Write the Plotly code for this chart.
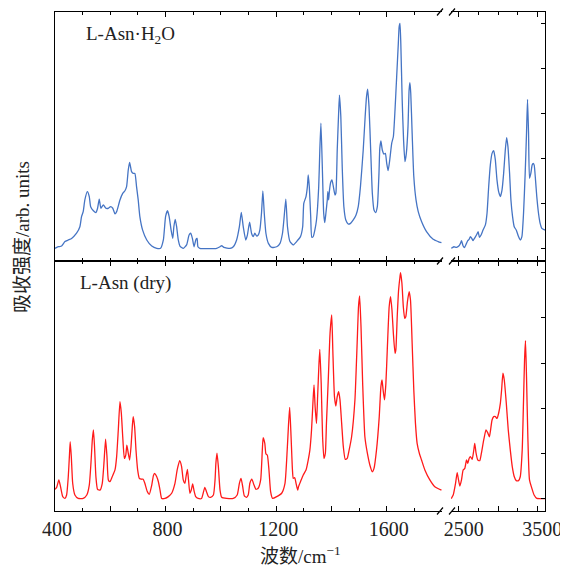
import plotly.graph_objects as go

# ---------------- data (wavenumber cm^-1, absorbance arb. units) ----------------
top_left = [(400,0),(412,0.7),(424,1.0),(436,3.0),(448,3.7),(460,4.4),(478,6.7),(490,9.6),(496,14.1),(502,16.3),
            (508,21.5),(517,25.2),(524,23.0),(529,18.5),(539,16.7),(548,15.9),(554,17.8),(560,21.9),(566,17.8),(575,19.3),
            (584,17.8),(593,17.8),(601,18.5),(609,17.8),(617,15.3),(623,16.3),(635,21.5),(645,24.4),(653,25.6),(659,27.4),
            (665,34.8),(670,38.2),(677,34.1),(683,33.3),(689,33.3),(695,27.4),(701,21.5),(707,14.1),(717,8.1),(732,3.7),
            (750,1.0),(768,0),(782,0),(792,3.7),(800,14.1),(807,16.7),(813,14.1),(820,8.1),(826,4.4),(830,9.6),
            (835,12.9),(840,9.6),(846,3.7),(852,1.0),(864,0),(876,1.5),(885,5.9),(891,6.7),(897,4.4),(903,0.7),
            (910,4.0),(914,4.4),(917,0.7),(924,0),(985,0),(997,0.7),(1003,1.2),(1011,0.4),(1033,0),(1045,0.7),
            (1057,3.7),(1067,9.6),(1074,16.0),(1081,9.6),(1090,3.7),(1096,5.9),(1104,11.6),(1111,6.7),(1117,5.2),(1123,6.7),
            (1129,5.5),(1135,5.9),(1141,8.1),(1147,15.6),(1152,25.5),(1157,15.6),(1163,6.7),(1172,2.2),(1184,0.4),(1202,0.7),
            (1214,2.2),(1223,6.7),(1228,12.6),(1235,21.9),(1241,9.6),(1250,3.0),(1262,1.5),(1274,3.0),
            (1288,5.2),(1296,9.6),(1300,20.0),(1308,23.0),(1313,27.4),(1316,32.6),(1320,27.4),(1325,14.1),(1329,4.9),(1334,5.2),
            (1340,8.1),(1346,12.6),(1354,27.4),(1358,43.7),(1362,55.6),(1367,36.3),(1372,15.6),(1376,11.4),(1380,15.6),(1385,21.5),
            (1387,25.2),(1390,21.5),(1393,25.9),(1398,29.6),(1402,30.4),(1407,27.4),(1413,23.7),(1416,24.4),(1421,43.7),(1426,60.0),
            (1429,68.1),(1434,58.5),(1439,36.3),(1445,18.5),(1452,12.6),(1461,10.8),(1469,11.1),(1479,12.6),(1489,14.8),(1497,18.5),
            (1505,27.4),(1515,43.7),(1522,58.5),(1527,67.4),(1531,70.7),(1536,63.0),(1542,43.7),(1548,24.4),(1554,17.0),(1560,15.9),
            (1566,18.5),(1572,33.3),(1575,44.4),(1579,47.7),(1584,43.7),(1590,41.9),(1595,42.2),(1600,37.8),(1605,34.5),(1611,39.3),
            (1618,46.7),(1624,49.6),(1630,61.5),(1636,76.3),(1642,91.1),(1645,98.5),(1648,100),(1651,91.1),(1656,65.9),(1661,48.1),
            (1666,38.5),(1671,42.2),(1677,54.1),(1681,70.4),(1684,73.6),(1687,68.9),(1692,51.1),(1698,31.9),(1706,21.5),(1714,16.3),
            (1726,11.9),(1744,7.4),(1768,4.0),(1786,3.0),(1798,2.5)]

top_right = [(2403,0),(2437,0.7),(2470,0.4),(2500,1.0),(2521,2.2),(2534,3.4),(2555,1.0),(2572,0.3),(2598,2.2),(2614,3.4),
             (2631,4.0),(2648,5.2),(2665,4.4),(2682,3.4),(2699,4.4),(2725,5.9),(2746,7.4),(2763,4.9),(2784,5.9),(2809,8.1),
             (2839,10.4),(2860,15.6),(2881,27.4),(2902,37.0),(2924,42.2),(2945,43.4),(2953,42.2),(2966,39.3),(2987,30.4),(3008,25.2),
             (3030,23.0),(3051,25.9),(3072,33.3),(3093,43.7),(3110,49.2),(3127,45.2),(3148,33.3),(3165,21.5),(3186,14.1),(3207,9.6),
             (3233,8.1),(3262,5.2),(3284,3.7),(3305,5.2),(3326,15.6),(3347,33.3),(3364,51.1),(3377,66.2),(3390,51.1),(3402,31.1),
             (3419,33.3),(3436,37.0),(3449,37.8),(3462,37.0),(3479,30.4),(3495,23.0),(3517,15.6),(3538,11.1),(3559,8.9),(3600,8.1)]

bot_left = [(400,4.1),(406,5.0),(414,8.3),(420,5.3),(428,0.9),(436,0.1),(442,1.6),(448,9.7),(452,18.6),(455,25.2),
            (459,18.6),(464,6.8),(472,1.6),(484,0.1),(502,0.1),(515,1.6),(524,6.0),(530,15.6),(535,26.0),(539,30.4),
            (543,23.0),(548,9.7),(554,4.1),(563,3.8),(571,6.8),(577,15.6),(583,26.3),(588,18.6),(593,8.3),(599,7.5),
            (607,9.7),(617,12.7),(623,18.6),(629,30.4),(635,42.9),(640,37.8),(645,27.4),(651,17.8),(656,19.3),(660,23.7),
            (665,20.1),(670,17.1),(675,23.0),(680,32.6),(683,36.3),(688,31.9),(693,21.5),(699,12.7),(705,9.0),(713,8.6),
            (719,8.6),(725,6.8),(734,3.1),(741,1.9),(750,6.0),(756,10.2),(760,11.2),(768,9.7),(774,7.5),(780,3.8),
            (786,0.1),(798,0.1),(810,0.9),(822,2.4),(834,6.8),(842,12.7),(851,16.8),(858,14.2),(864,8.3),(870,6.8),
            (874,9.7),(879,13.0),(883,8.3),(888,2.4),(893,3.8),(898,6.5),(903,3.5),(909,0.9),(918,0.1),(930,0.1),
            (936,2.4),(942,5.0),(948,3.1),(955,0.9),(963,0.6),(973,1.6),(979,8.3),(982,15.6),(986,20.1),(991,14.2),
            (997,3.8),(1003,0.6),(1021,0.1),(1045,0.1),(1059,1.6),(1067,6.8),(1073,9.0),(1079,5.3),(1085,1.2),(1093,0.6),
            (1099,1.6),(1105,6.8),(1112,8.6),(1120,6.0),(1127,4.1),(1135,4.6),(1144,8.3),(1150,21.5),(1153,27.0),(1159,24.5),
            (1163,19.8),(1168,19.3),(1174,12.7),(1180,3.1),(1187,0.1),(1202,0.9),(1220,2.4),(1232,6.8),(1240,21.5),(1245,33.3),
            (1249,40.4),(1254,27.4),(1259,12.7),(1262,9.0),(1267,9.3),(1272,6.8),(1278,3.8),
            (1281,5.3),(1288,7.5),(1298,10.5),(1308,12.7),(1316,17.1),(1322,21.5),(1328,30.4),(1333,42.2),(1337,50.3),(1341,40.7),
            (1346,33.3),(1350,45.1),(1355,59.9),(1358,66.1),(1363,51.0),(1368,27.4),(1373,17.8),(1378,20.1),(1382,33.3),(1389,54.0),
            (1395,73.2),(1401,81.3),(1405,65.8),(1411,45.1),(1416,41.0),(1421,45.1),(1426,47.3),(1431,43.7),(1437,33.3),(1443,23.0),
            (1450,17.4),(1457,17.8),(1464,21.5),(1473,27.4),(1485,43.7),(1493,68.7),(1498,85.0),(1502,89.7),(1507,76.1),(1513,51.0),
            (1521,27.4),(1530,20.1),(1539,14.9),(1548,11.9),(1554,13.4),(1563,21.5),(1573,36.3),(1579,49.6),(1583,52.5),(1587,48.1),
            (1592,43.7),(1597,51.0),(1602,65.8),(1609,85.0),(1614,89.4),(1619,83.5),(1624,73.2),(1630,64.3),(1633,65.8),(1638,80.5),
            (1643,92.3),(1648,98.2),(1650,100),(1655,95.3),(1660,85.0),(1665,79.8),(1669,80.5),(1675,87.2),(1681,91.6),(1686,87.9),
            (1692,68.7),(1698,48.1),(1704,33.3),(1710,24.5),(1718,20.1),(1726,17.1),(1738,12.7),(1756,8.3),(1774,5.3),(1798,3.8)]

bot_right = [(2403,0),(2428,1.6),(2458,6.8),(2479,11.5),(2496,8.3),(2513,5.6),(2534,8.3),(2555,12.7),(2576,13.4),(2598,17.1),
             (2614,15.6),(2631,17.8),(2648,18.6),(2670,17.4),(2691,21.5),(2703,24.5),(2720,20.1),(2742,17.1),(2767,16.8),(2788,20.1),
             (2818,26.0),(2847,30.4),(2868,29.2),(2890,27.4),(2902,29.6),(2924,34.8),(2945,36.3),(2966,36.3),(2987,35.5),(3008,37.8),
             (3030,42.2),(3046,48.1),(3063,55.5),(3080,52.5),(3106,42.2),(3131,30.4),(3157,21.5),(3182,14.2),(3208,9.7),(3233,8.0),
             (3262,8.0),(3284,9.7),(3309,21.5),(3326,43.7),(3339,61.4),(3351,69.9),(3364,54.0),(3381,27.4),(3402,8.3),(3432,4.6),
             (3461,1.6),(3495,0.1),(3538,0),(3600,0)]

left_tickvals = [400, 600, 800, 1000, 1200, 1400, 1600, 1800]
left_ticktext = ["400", "", "800", "", "1200", "", "1600", ""]
right_tickvals = [2500, 3000, 3500]
right_ticktext = ["2500", "", "3500"]
label_top = "L-Asn·H<sub>2</sub>O"
label_bot = "L-Asn (dry)"
ytitle = "吸收强度/arb. units"
xtitle = "波数/cm<sup>−1</sup>"

BLUE = "#4574c4"
RED = "#ff1a1a"
FONT = "Liberation Serif, 'Noto Sans CJK SC', serif"
TXT = "#222222"

def unzip(pairs):
    return [p[0] for p in pairs], [p[1] for p in pairs]

fig = go.Figure()
for pairs, color, xa, ya in [(top_left, BLUE, "x3", "y3"), (top_right, BLUE, "x4", "y4"),
                             (bot_left, RED, "x", "y"), (bot_right, RED, "x2", "y2")]:
    xs, ys = unzip(pairs)
    fig.add_trace(go.Scatter(x=xs, y=ys, mode="lines", xaxis=xa, yaxis=ya, showlegend=False,
                             line=dict(color=color, width=1.3, shape="spline", smoothing=0.5)))

# page has an 8px body margin; geometry below is in window pixels
OFF = 8
FW, FH = 568 - OFF, 566 - OFF
L, R, T, B = 55, 545, 12, 511          # plot area in window px
W, H = R - L, B - T
def px(x):
    return (x - L) / W
def py(y):
    return (B - y) / H

dl = [0, px(442)]
dr = [px(451), 1]
mid = py(261)
dbot = [0, mid]
dtop = [mid, 1]

ax_common = dict(showline=True, linecolor="black", linewidth=1.2, mirror="ticks", ticks="inside",
                 tickcolor="black", tickwidth=1.1, ticklen=5, showgrid=False, zeroline=False,
                 tickfont=dict(family=FONT, size=20, color=TXT))
left_x = dict(ax_common, range=[400, 1800], tickmode="array", tickvals=left_tickvals, ticktext=left_ticktext,
              minor=dict(dtick=100, tick0=400, ticks="inside", ticklen=3, tickcolor="black", tickwidth=1.0),
              domain=dl, ticklabelshift=2)
right_x = dict(ax_common, range=[2400, 3600], tickmode="array", tickvals=right_tickvals, ticktext=right_ticktext,
               minor=dict(dtick=250, tick0=2500, ticks="inside", ticklen=3, tickcolor="black", tickwidth=1.0),
               domain=dr, ticklabelshift=5)

y_left = dict(showline=True, linecolor="black", linewidth=1.2, ticks="", showticklabels=False,
              showgrid=False, zeroline=False)
y_right = dict(showline=True, linecolor="black", linewidth=1.2, side="right", ticks="inside",
               tickmode="array", tickvals=[0, 20, 40, 60, 80, 100], ticklen=4, tickcolor="black",
               showticklabels=False, showgrid=False, zeroline=False)

fig.update_layout(
    width=FW, height=FH,
    margin=dict(l=L - OFF, r=FW - (R - OFF), t=T - OFF, b=FH - (B - OFF)),
    paper_bgcolor="white", plot_bgcolor="white",
    font=dict(family=FONT, size=19, color=TXT),
    xaxis=dict(left_x, anchor="y"),
    xaxis2=dict(right_x, anchor="y2"),
    xaxis3=dict(left_x, anchor="y3", showticklabels=False, matches="x"),
    xaxis4=dict(right_x, anchor="y4", showticklabels=False, matches="x2"),
    yaxis=dict(y_left, domain=dbot, anchor="x", range=[-5.46, 105.16]),
    yaxis2=dict(y_right, domain=dbot, anchor="x2", range=[-5.46, 105.16]),
    yaxis3=dict(y_left, domain=dtop, anchor="x3", range=[-5.64, 105.05]),
    yaxis4=dict(y_right, domain=dtop, anchor="x4", range=[-5.64, 105.05]),
)

# axis-break marks
for yy in (12, 261, 511):
    for xc in (440, 452):
        fig.add_shape(type="line", xref="paper", yref="paper",
                      x0=px(xc - 3), y0=py(yy + 3.5), x1=px(xc + 3), y1=py(yy - 3.5),
                      line=dict(color="black", width=1.2))

fig.add_annotation(text=label_top, xref="paper", yref="paper", x=px(84), y=py(35),
                   xanchor="left", yanchor="middle", showarrow=False, font=dict(family=FONT, size=19, color=TXT))
fig.add_annotation(text=label_bot, xref="paper", yref="paper", x=px(78), y=py(283),
                   xanchor="left", yanchor="middle", showarrow=False, font=dict(family=FONT, size=19, color=TXT))
fig.add_annotation(text=ytitle, xref="paper", yref="paper", x=px(22), y=py(237), textangle=-90,
                   xanchor="center", yanchor="middle", showarrow=False, font=dict(family=FONT, size=19, color=TXT))
fig.add_annotation(text=xtitle, xref="paper", yref="paper", x=px(300), y=py(555),
                   xanchor="center", yanchor="middle", showarrow=False, font=dict(family=FONT, size=19, color=TXT))

fig.write_html("out.html")
